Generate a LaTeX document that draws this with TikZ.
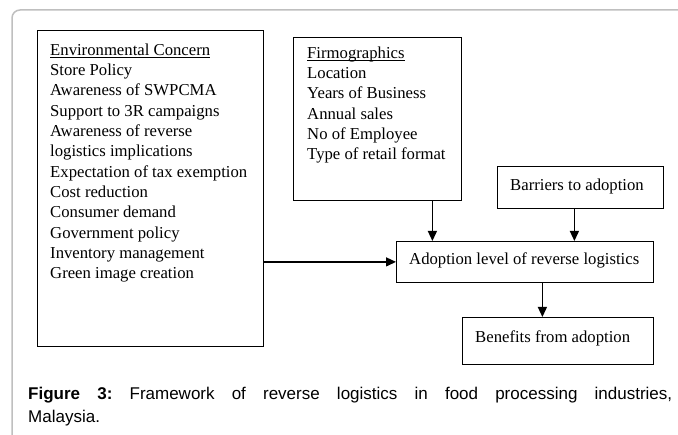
\documentclass[tikz,border=0pt]{standalone}
\usepackage{fontspec}
\setmainfont{Liberation Serif}
\newfontfamily\capfont{Liberation Sans}
\usetikzlibrary{arrows.meta,positioning}
\newcommand{\hd}[1]{\setbox0\hbox{#1}\rlap{\rule[-2pt]{\wd0}{0.8pt}}\box0}
\begin{document}
\begin{tikzpicture}[x=1pt, y=-1pt, >={Triangle[length=10pt,width=9pt]},
    box/.style={draw, line width=0.8pt, inner sep=0pt, anchor=north west},
    boxtext/.style={align=left, inner sep=0pt, anchor=north west, font=\fontsize{16.7}{20.3}\selectfont},
    link/.style={->, line width=1.3pt}]
    \useasboundingbox (0,0) rectangle (678,435) ;
    \draw [gray!50, line width=1.5pt, rounded corners=8pt] (12,450) -- (12,10) -- (690,10) ;

    \node [box, minimum width=226pt, minimum height=316pt] (env) at (37,30) {} ;
    \node [boxtext] (envtext) at ([shift={(13,13.6)}]env.north west) {\hd{Environmental Concern}\\ Store Policy\\ Awareness of SWPCMA\\ Support to 3R campaigns\\ Awareness of reverse\\ logistics implications\\ Expectation of tax exemption\\ Cost reduction\\ Consumer demand\\ Government policy\\ Inventory management\\ Green image creation} ;

    \node [box, minimum width=168pt, minimum height=163pt] (firm) at (293,37) {} ;
    \node [boxtext] (firmtext) at ([shift={(14,9.6)}]firm.north west) {\hd{Firmographics}\\ Location\\ Years of Business\\ Annual sales\\ No of Employee\\ Type of retail format} ;

    \node [box, minimum width=166pt, minimum height=42pt] (barrier) at (497,166) {} ;
    \node [boxtext] (barriertext) at ([shift={(13,12.6)}]barrier.north west) {Barriers to adoption} ;

    \node [box, minimum width=257pt, minimum height=41pt] (ado) at (396,241) {} ;
    \node [boxtext] (adotext) at ([shift={(13,11.6)}]ado.north west) {Adoption level of reverse logistics} ;

    \node [box, minimum width=191pt, minimum height=47pt] (ben) at (462,317) {} ;
    \node [boxtext] (bentext) at ([shift={(13,13.3)}]ben.north west) {Benefits from adoption} ;

    \draw [link] (env.east |- ado.west) -- (ado.west) ;
    \draw [link] ([xshift=55pt]firm.south) -- ([xshift=55pt]firm.south |- ado.north) ;
    \draw [link] ([xshift=-6pt]barrier.south) -- ([xshift=-6pt]barrier.south |- ado.north) ;
    \draw [link] ([xshift=17.5pt]ado.south) -- ([xshift=17.5pt]ado.south |- ben.north) ;

    \node [anchor=north west, text width=644pt, align=justify, inner sep=0pt, font=\capfont\fontsize{17}{23}\selectfont\frenchspacing] (caption) at (28,386.8) {\textbf{Figure 3:} Framework of reverse logistics in food processing industries,\linebreak Malaysia.} ;
\end{tikzpicture}
\end{document}
